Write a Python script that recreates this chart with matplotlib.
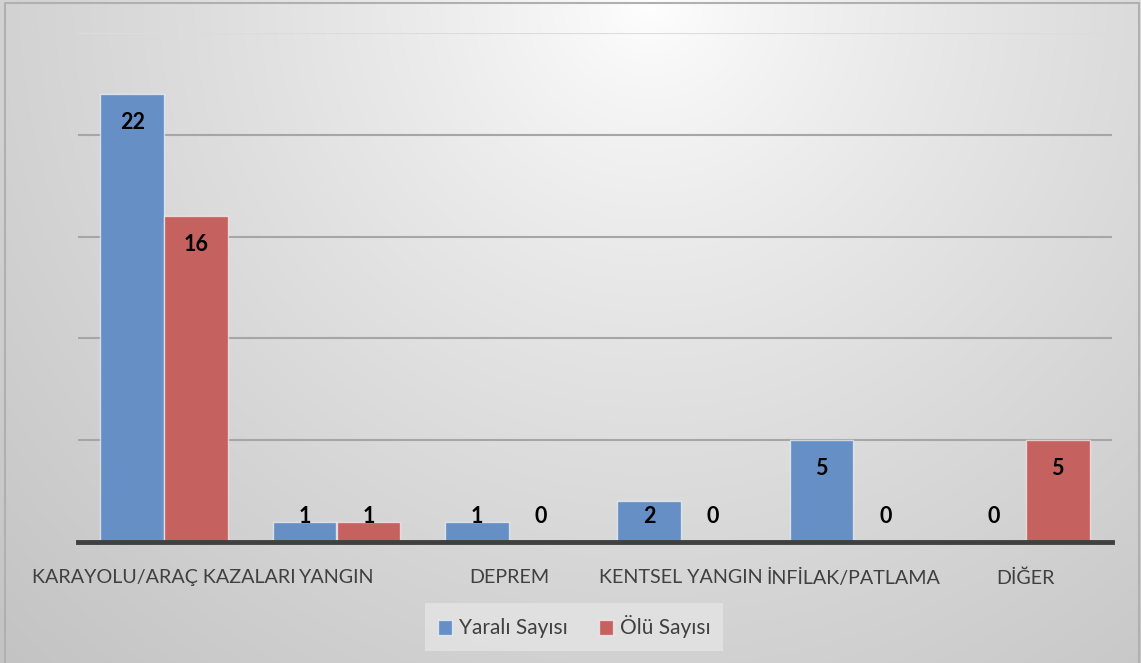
import numpy as np
import matplotlib
matplotlib.use("Agg")
import matplotlib.pyplot as plt
from matplotlib.patches import Patch

categories = ["KARAYOLU/ARAÇ KAZALARI", "YANGIN", "DEPREM", "KENTSEL YANGIN", "İNFİLAK/PATLAMA", "DİĞER"]
yarali = [22, 1, 1, 2, 5, 0]
olu = [16, 1, 0, 0, 0, 5]
series_names = ["Yaralı Sayısı", "Ölü Sayısı"]

BLUE = "#6690c5"
RED = "#c5625f"
FONT = ["Lato", "DejaVu Sans"]

W, H = 1141, 663
fig = plt.figure(figsize=(W / 100, H / 100), dpi=100)

# background gradient (radial, light at top centre)
bg = fig.add_axes([0, 0, 1, 1])
yy, xx = np.mgrid[0:H, 0:W]
d = np.hypot(xx - 650, (yy - 0) * 1.0)
v = 255 - 60 * np.clip(d / 929, 0, 1) ** 0.8
img = np.dstack([v, v, v]) / 255
bg.imshow(img, aspect="auto", extent=[0, W, H, 0])
bg.set_xlim(0, W)
bg.set_ylim(H, 0)
bg.axis("off")
# thin border
bg.plot([5, 5, 1139, 1139], [H, 3, 3, H], color="#b0b0b0", lw=1.5)

ax = fig.add_axes([78 / W, 1 - 542 / H, (1112 - 78) / W, (542 - 33) / H])
ax.patch.set_alpha(0)
n = len(categories)
x = np.arange(n)
bw = 0.37
ax.bar(x - bw / 2, yarali, bw, color=BLUE, edgecolor=(1, 1, 1, 0.6), linewidth=1, zorder=3)
ax.bar(x + bw / 2, olu, bw, color=RED, edgecolor=(1, 1, 1, 0.6), linewidth=1, zorder=3)

ax.set_xlim(-0.5, n - 0.5)
ax.set_ylim(0, 25)
ax.set_yticks([5, 10, 15, 20, 25])
ax.yaxis.grid(True, color="#a6a6a6", linewidth=1.5, zorder=0)
gl = ax.get_ygridlines()
gl[-1].set_color("#dcdcdc")
ax.tick_params(axis="y", left=False, labelleft=False)
ax.tick_params(axis="x", bottom=False, pad=16)
for s in ["top", "right", "left"]:
    ax.spines[s].set_visible(False)
ax.spines["bottom"].set_color("#404040")
ax.spines["bottom"].set_linewidth(3.5)
ax.spines["bottom"].set_zorder(4)
ax.set_xticks(x)
ax.set_xticklabels(categories, fontsize=14.2, color="#404040", family=FONT)

for offs, vals in [(-bw / 2, yarali), (bw / 2, olu)]:
    for xi, val in zip(x, vals):
        ly = max(val - 1.38, 1.23)
        ax.text(xi + offs, ly, str(val), ha="center", va="center", fontsize=15.5,
                fontweight="bold", color="black", family=FONT, zorder=5)

handles = [Patch(facecolor=BLUE, edgecolor=(1, 1, 1, 0.6)), Patch(facecolor=RED, edgecolor=(1, 1, 1, 0.6))]
leg = fig.legend(handles, series_names, loc="center", bbox_to_anchor=(574 / W, 1 - 627 / H), ncol=2,
                 frameon=True, fancybox=False, edgecolor="none", facecolor="#e4e4e4", framealpha=0.8,
                 handlelength=0.7, handleheight=0.7, handletextpad=0.3, columnspacing=1.5,
                 prop={"family": FONT, "size": 15}, borderpad=0.6)
for t in leg.get_texts():
    t.set_color("#404040")

fig.savefig("out.png", dpi=100)
